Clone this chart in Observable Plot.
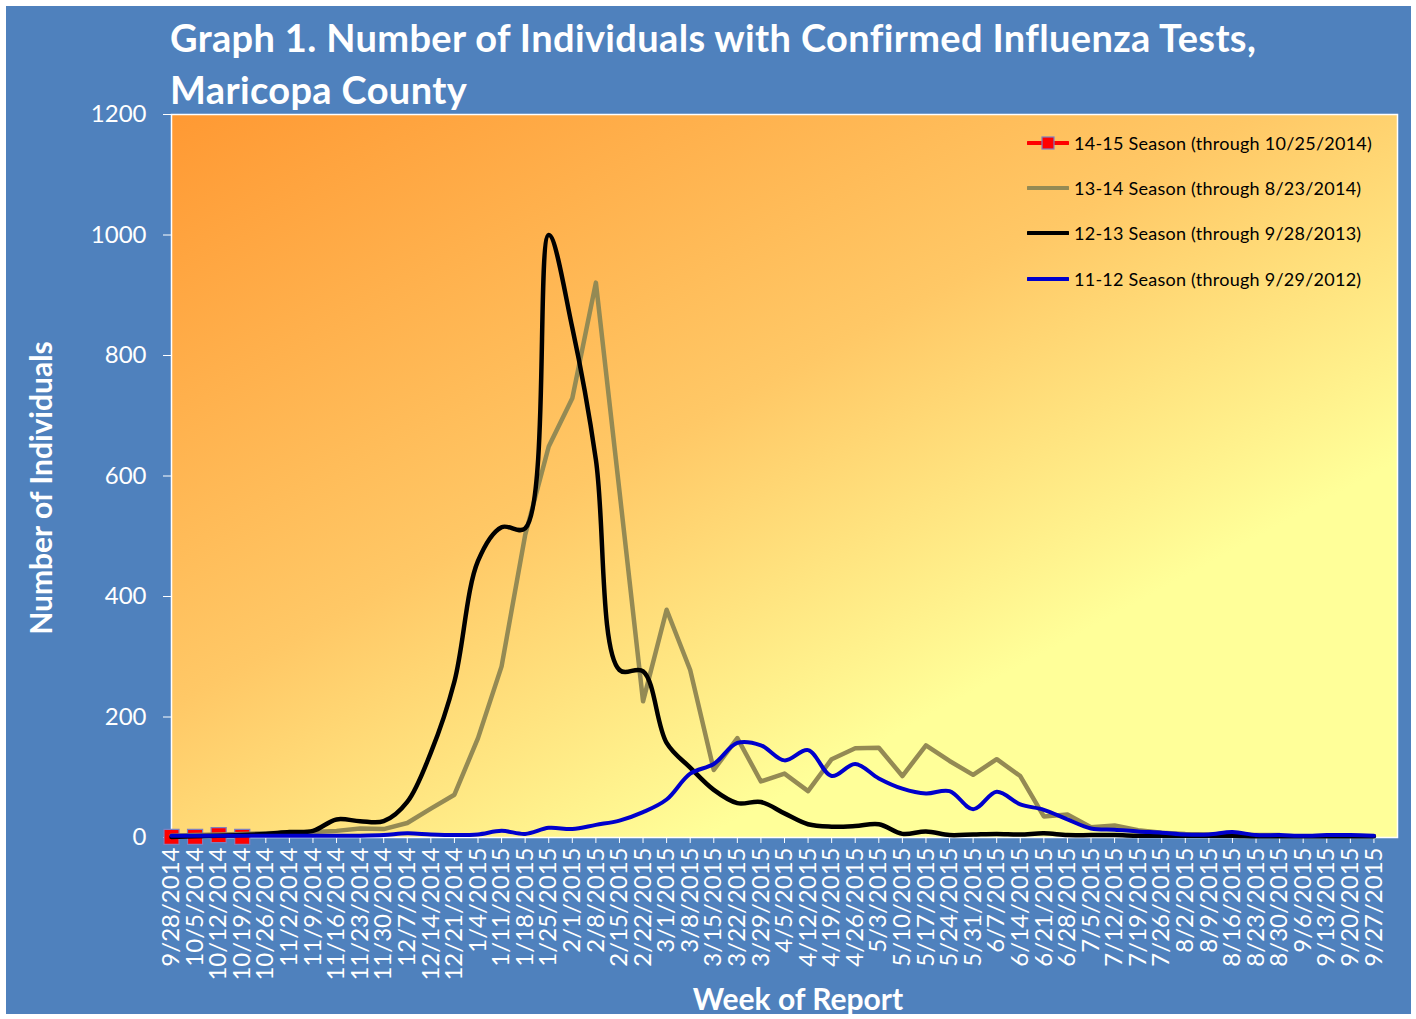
<!DOCTYPE html>
<html><head><meta charset="utf-8">
<script src="https://cdn.jsdelivr.net/npm/d3@7"></script>
<script src="https://cdn.jsdelivr.net/npm/@observablehq/plot@0.6"></script>
<style>
html,body{margin:0;padding:0;background:#fff;}
#page{position:relative;width:1416px;height:1019px;overflow:hidden;font-family:Lato,"Open Sans",sans-serif;}
#bluebox{position:absolute;left:6px;top:6px;width:1405px;height:1008px;background:#4F81BD;}
#title{position:absolute;left:170px;top:11px;color:#fff;font-weight:700;font-size:38px;letter-spacing:0.35px;line-height:52px;white-space:nowrap;}
#chart{position:absolute;left:0;top:0;}
#ytitle{position:absolute;left:40px;top:488px;transform:translate(-50%,-50%) rotate(-90deg);color:#fff;font-weight:700;font-size:30px;white-space:nowrap;}
#xtitle{position:absolute;left:798px;top:998px;transform:translate(-50%,-50%);color:#fff;font-weight:700;font-size:30px;white-space:nowrap;}
#legend{position:absolute;left:1027px;top:120px;}
.lrow{display:flex;align-items:center;height:45.3px;}
.lrow svg{width:42px;height:16px;margin-right:5px;flex:none;}
.lrow span{font-size:18px;letter-spacing:0.25px;color:#000;white-space:nowrap;}
</style>
</head><body>
<div id="page">
  <div id="bluebox"></div>
  <div id="title">Graph 1. Number of Individuals with Confirmed Influenza Tests,<br>Maricopa County</div>
  <div id="chart"></div>
  <div id="ytitle">Number of Individuals</div>
  <div id="xtitle">Week of Report</div>
  <div id="legend"></div>
</div>
<script>
const weekLabels = ["9/28/2014","10/5/2014","10/12/2014","10/19/2014","10/26/2014","11/2/2014","11/9/2014","11/16/2014","11/23/2014","11/30/2014","12/7/2014","12/14/2014","12/21/2014","1/4/2015","1/11/2015","1/18/2015","1/25/2015","2/1/2015","2/8/2015","2/15/2015","2/22/2015","3/1/2015","3/8/2015","3/15/2015","3/22/2015","3/29/2015","4/5/2015","4/12/2015","4/19/2015","4/26/2015","5/3/2015","5/10/2015","5/17/2015","5/24/2015","5/31/2015","6/7/2015","6/14/2015","6/21/2015","6/28/2015","7/5/2015","7/12/2015","7/19/2015","7/26/2015","8/2/2015","8/9/2015","8/16/2015","8/23/2015","8/30/2015","9/6/2015","9/13/2015","9/20/2015","9/27/2015"];
const yTicks = [0,200,400,600,800,1000,1200];
const seasonNames = ["14-15 Season (through 10/25/2014)","13-14 Season (through 8/23/2014)","12-13 Season (through 9/28/2013)","11-12 Season (through 9/29/2012)"];
const season1415 = [1,1,4,1];
const season1314 = [3,4,5,6,7,8,9,11,15,14,24,48,71,165,284,502,649,729,921,575,226,378,278,112,165,93,106,77,130,148,149,102,153,127,104,130,102,35,38,17,20,12,8,6,5,5,4,4];
const season1213 = [1,2,3,4,6,9,11,30,27,27,59,141,259,459,515,513,1000,846,627,278,276,157,116,79,57,59,40,22,18,19,22,6,10,4,5,6,5,7,4,4,4,3,3,3,3,3,2,2,2,2,2,2];
const season1112 = [3,3,3,3,3,3,3,3,3,4,7,5,4,5,11,6,16,14,21,28,42,63,106,122,157,153,128,145,102,122,98,81,73,77,47,76,55,46,30,15,13,10,8,5,5,9,4,4,3,4,4,3];
const colors = ["#FF0000","#948A54","#000000","#0000CC"];

const toRows = arr => arr.map((v,i)=>({i, v}));
const d1415 = toRows(season1415), d1314 = toRows(season1314), d1213 = toRows(season1213), d1112 = toRows(season1112);

const chart = Plot.plot({
  width:1416, height:1019,
  marginLeft:171, marginRight:19, marginTop:114, marginBottom:182,
  x:{type:"linear", domain:[0, weekLabels.length], axis:null},
  y:{domain:[0,1200], axis:null},
  style:{background:"transparent", color:"white", fontFamily:"Lato, sans-serif", fontSize:"24px", overflow:"visible"},
  marks:[
    Plot.frame({fill:"url(#bgGrad)", stroke:"white", strokeWidth:1.5}),
    Plot.axisY({ticks:yTicks, tickSize:8, tickPadding:17, tickFormat:d=>String(d), fontSize:24, label:null}),
    Plot.axisX({ticks:d3.range(weekLabels.length), tickFormat:i=>weekLabels[i], tickRotate:-90, tickSize:6, tickPadding:4, fontSize:24, label:null}),
    Plot.line(d1415, {x:"i", y:"v", stroke:colors[0], strokeWidth:3}),
    Plot.dot(d1415, {x:"i", y:"v", symbol:"square", r:8.5, fill:colors[0], stroke:"#7F7FBF", strokeWidth:1.2}),
    Plot.line(d1314, {x:"i", y:"v", stroke:colors[1], strokeWidth:4.5}),
    Plot.line(d1213, {x:"i", y:"v", stroke:colors[2], strokeWidth:4.5, curve:"catmull-rom"}),
    Plot.line(d1112, {x:"i", y:"v", stroke:colors[3], strokeWidth:4, curve:"catmull-rom"})
  ]
});

// gradient for plot area
const ns = "http://www.w3.org/2000/svg";
const defs = document.createElementNS(ns,"defs");
const lg = document.createElementNS(ns,"linearGradient");
lg.setAttribute("id","bgGrad");
lg.setAttribute("gradientUnits","userSpaceOnUse");
lg.setAttribute("x1","171"); lg.setAttribute("y1","114");
lg.setAttribute("x2","760"); lg.setAttribute("y2","1200");
[["0","#FF9933"],["0.42","#FFC866"],["0.72","#FFFF99"],["1","#FFFF99"]].forEach(([o,c])=>{
  const s = document.createElementNS(ns,"stop");
  s.setAttribute("offset",o); s.setAttribute("stop-color",c);
  lg.appendChild(s);
});
defs.appendChild(lg);
chart.insertBefore(defs, chart.firstChild);
document.getElementById("chart").appendChild(chart);

// legend
const legend = document.getElementById("legend");
seasonNames.forEach((name,k)=>{
  const row = document.createElement("div");
  row.className="lrow";
  let sw = `<svg viewBox="0 0 42 16"><line x1="1" x2="41" y1="8" y2="8" stroke="${colors[k]}" stroke-width="4" stroke-linecap="round"/>`;
  if(k===0) sw += `<rect x="15" y="2" width="12" height="12" fill="${colors[0]}" stroke="#7F7FBF" stroke-width="1.2"/>`;
  sw += `</svg>`;
  row.innerHTML = sw + `<span>${name}</span>`;
  legend.appendChild(row);
});
</script>
</body></html>
